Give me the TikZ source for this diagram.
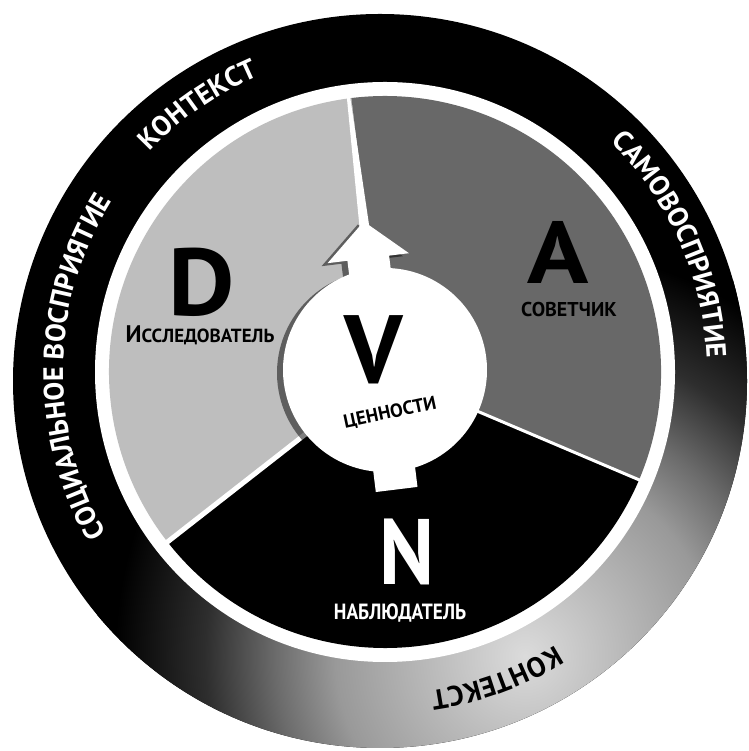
\documentclass[tikz,border=0pt]{standalone}
\usepackage{fontspec}
\setmainfont{PT Sans}
\usepackage{graphicx}
\usetikzlibrary{decorations.text}
\definecolor{lgray}{HTML}{BEBEBE}
\definecolor{mgray}{HTML}{686868}
\definecolor{ringA}{gray}{0.86}
\definecolor{ringB}{gray}{0.60}
\definecolor{ringC}{gray}{0.42}
\definecolor{ringD}{gray}{0.18}
\pgfdeclareradialshading{ringshade}{\pgfpoint{0pt}{0pt}}{color(0pt)=(ringA); color(190pt)=(ringB); color(250pt)=(ringC); color(320pt)=(ringD); color(410pt)=(black); color(430pt)=(black)}
\newcommand\ringfont{\fontsize{28}{28}\selectfont\bfseries}
\begin{document}
\begin{tikzpicture}[x=1pt,y=1pt,
  bigletter/.style={inner sep=0pt, font=\fontsize{95}{95}\selectfont\bfseries},
  label/.style={inner sep=0pt, font=\fontsize{20}{20}\selectfont\bfseries},
  shadowfill/.style={fill=black, fill opacity=0.5}]
\useasboundingbox (0,0) rectangle (748,751);
\fill[white] (0,0) rectangle (748,751);
\coordinate (O1) at (380,370);
\coordinate (O2) at (385,379);
\coordinate (C) at (385,381);
% outer ring
\fill[black] (O1) circle (367);
\begin{scope}
  \clip (O1) circle (367);
  \node[inner sep=0pt, outer sep=0pt] (shadebox) at (525,95) {\pgfuseshading{ringshade}};
\end{scope}
\fill[white] (O2) circle (290);
% sectors
\fill[lgray] (O2) -- ++(97:276) arc[start angle=97,end angle=218,radius=276] -- cycle;
\fill[black] (O2) -- ++(218:276) arc[start angle=218,end angle=337,radius=276] -- cycle;
\fill[mgray] (O2) -- ++(-23:276) arc[start angle=-23,end angle=97,radius=276] -- cycle;
\draw[white, line width=3pt] (O2) -- ++(-23:282);
\draw[white, line width=5pt] (O2) -- ++(218:282);
% shadow of arrow + circle
\begin{scope}[shift={(379,378)}, rotate=7]
  \fill[shadowfill] (0,0) circle (102)
    (-24,-120) -- (18,-120) -- (18,113) -- (38,113) -- (-3,150) -- (-44,113) -- (-24,113) -- cycle;
\end{scope}
% arrow + circle
\begin{scope}[shift={(C)}, rotate=7]
  \fill[white] (0,0) circle (102)
    (-24,-120) -- (18,-120) -- (18,113) -- (38,113) -- (-3,150) -- (-44,113) -- (-24,113) -- cycle;
  \fill[white] (-8,140) -- (2,140) -- (-1.5,282) -- (-4.5,282) -- cycle;
\end{scope}
% sector letters
\node[bigletter] (D) at (202,469) {\scalebox{1.08}[1]{D}};
\node[label, font=\fontsize{19}{19}\selectfont\bfseries] (Dlab) at (200,416) {{\fontsize{24}{24}\selectfont И}ССЛЕДОВАТЕЛЬ};
\node[bigletter, font=\fontsize{88}{88}\selectfont\bfseries] (A) at (558,499) {\scalebox{1.15}[1]{A}};
\node[label] (Alab) at (569,441) {СОВЕТЧИК};
\node[bigletter, font=\fontsize{97}{97}\selectfont\bfseries] (V) at (374,401) {V};
\node[label, font=\fontsize{19}{19}\selectfont\bfseries, rotate=12] (Vlab) at (390,338) {ЦЕННОСТИ};
\node[bigletter, text=white, font=\fontsize{93}{93}\selectfont\bfseries] (N) at (407,199) {\scalebox{0.9}[1]{N}};
\node[label, text=white, font=\fontsize{22}{22}\selectfont\bfseries] (Nlab) at (400,138) {\scalebox{0.88}[1]{НАБЛЮДАТЕЛЬ}};
% ring texts
\path[shift={(O2)}, decorate, decoration={text along path, text align=center,
  text={|\ringfont\color{white}|КОНТЕКСТ}}] (165:322) arc[start angle=165,end angle=85,radius=322];
\path[shift={(O2)}, decorate, decoration={text along path, text align=center,
  text={|\ringfont\color{white}|СОЦИАЛЬНОЕ ВОСПРИЯТИЕ}}] (232:322) arc[start angle=232,end angle=126,radius=322];
\path[shift={(O2)}, decorate, decoration={text along path, text align=center,
  text={|\ringfont\color{white}|САМОВОСПРИЯТИЕ}}] (64:322) arc[start angle=64,end angle=-16,radius=322];
\path[shift={(O2)}, decorate, decoration={text along path, text align=center,
  text={|\ringfont\color{black}|КОНТЕКСТ}}] (-30:322) arc[start angle=-30,end angle=-110,radius=322];
\end{tikzpicture}
\end{document}
